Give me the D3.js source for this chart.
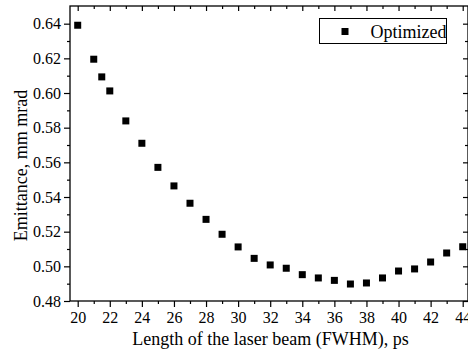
<!DOCTYPE html>
<html><head><meta charset="utf-8">
<script src="https://cdn.jsdelivr.net/npm/d3@7"></script>
<style>body{margin:0;background:#fff}svg{display:block}</style>
</head><body>
<script>
const lengths = [20,21,21.5,22,23,24,25,26,27,28,29,30,31,32,33,34,35,36,37,38,39,40,41,42,43,44];
const emittance = [0.6391,0.6195,0.6093,0.6012,0.5839,0.5710,0.5571,0.5464,0.5364,0.5271,0.5185,0.5112,0.5046,0.5008,0.4989,0.4952,0.4933,0.4919,0.4898,0.4904,0.4933,0.4973,0.4985,0.5025,0.5077,0.5113];
const xTicks = [20,22,24,26,28,30,32,34,36,38,40,42,44];
const xMinor = [21,23,25,27,29,31,33,35,37,39,41,43];
const yTicks = [0.48,0.50,0.52,0.54,0.56,0.58,0.60,0.62,0.64];
const yMinor = [0.49,0.51,0.53,0.55,0.57,0.59,0.61,0.63];
const seriesName = "Optimized";
const xTitle = "Length of the laser beam (FWHM), ps";
const yTitle = "Emittance, mm mrad";

const W = 468, H = 356;
const L = 70, R = 468, T = 6, B = 301;
const font = "'Liberation Serif','Times New Roman',serif";

const svg = d3.select("body").append("svg").attr("width", W).attr("height", H)
  .style("font-family", font);

const x = d3.scaleLinear().domain([19.52, 44.33]).range([L, R]);
const y = d3.scaleLinear().domain([0.48, 0.6502]).range([B, T]);

// bottom axis
const gB = svg.append("g").attr("transform", `translate(0,${B})`)
  .call(d3.axisBottom(x).tickValues(xTicks).tickSize(6).tickPadding(5).tickFormat(d3.format("d")));
svg.append("g").attr("transform", `translate(0,${B})`)
  .call(d3.axisBottom(x).tickValues(xMinor).tickSize(3).tickFormat(""));
// left axis
svg.append("g").attr("transform", `translate(${L},0)`)
  .call(d3.axisLeft(y).tickValues(yTicks).tickSize(6).tickPadding(3).tickFormat(d3.format(".2f")));
svg.append("g").attr("transform", `translate(${L},0)`)
  .call(d3.axisLeft(y).tickValues(yMinor).tickSize(3).tickFormat(""));
// top axis (ticks inward)
svg.append("g").attr("transform", `translate(0,${T})`)
  .call(d3.axisBottom(x).tickValues(xTicks).tickSize(5).tickFormat(""));
svg.append("g").attr("transform", `translate(0,${T})`)
  .call(d3.axisBottom(x).tickValues(xMinor).tickSize(3).tickFormat(""));
// right axis (ticks inward)
svg.append("g").attr("transform", `translate(${R},0)`)
  .call(d3.axisLeft(y).tickValues(yTicks).tickSize(5).tickFormat(""));
svg.append("g").attr("transform", `translate(${R},0)`)
  .call(d3.axisLeft(y).tickValues(yMinor).tickSize(3).tickFormat(""));

svg.selectAll(".domain").remove();
svg.selectAll(".tick line").attr("stroke", "#000").attr("stroke-width", 1.2);
svg.selectAll(".tick text").attr("font-size", 16).attr("font-family", font).attr("fill", "#000");

// frame
svg.append("rect").attr("x", L).attr("y", T).attr("width", R - L).attr("height", B - T)
  .attr("fill", "none").attr("stroke", "#000").attr("stroke-width", 1.3);

// markers
const ms = 7;
svg.append("g").selectAll("rect").data(lengths).join("rect")
  .attr("x", (d) => x(d) - ms / 2)
  .attr("y", (d, i) => y(emittance[i]) - ms / 2)
  .attr("width", ms).attr("height", ms).attr("fill", "#000");

// legend
const lg = svg.append("g");
lg.append("rect").attr("x", 319.5).attr("y", 18.5).attr("width", 127).attr("height", 25)
  .attr("fill", "#fff").attr("stroke", "#000").attr("stroke-width", 1);
lg.append("rect").attr("x", 345 - ms / 2).attr("y", 31.5 - ms / 2).attr("width", ms).attr("height", ms).attr("fill", "#000");
lg.append("text").attr("x", 370.5).attr("y", 37.5).attr("font-size", 18).text(seriesName);

// titles
svg.append("text").attr("x", 270.5).attr("y", 345).attr("text-anchor", "middle")
  .attr("font-size", 18).text(xTitle);
svg.append("text").attr("transform", "translate(27,165.5) rotate(-90)").attr("text-anchor", "middle")
  .attr("font-size", 18).text(yTitle);
</script>
</body></html>
